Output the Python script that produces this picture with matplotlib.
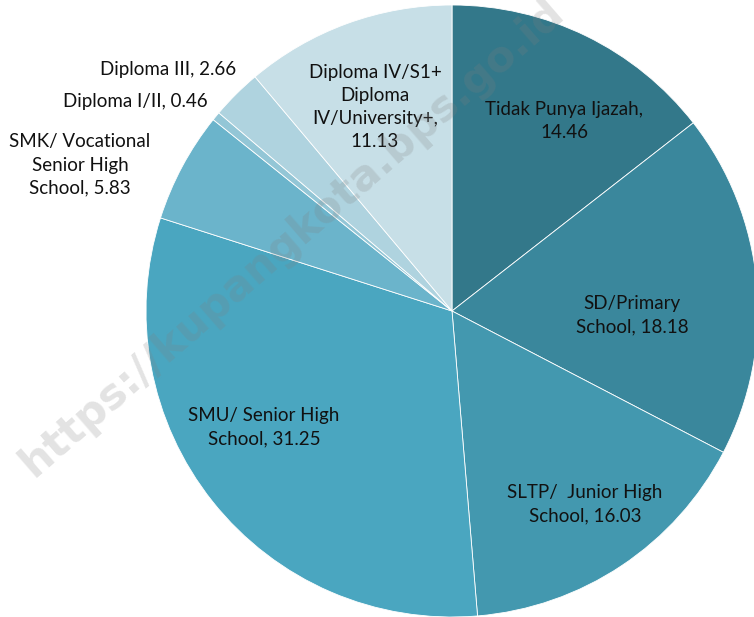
import matplotlib.pyplot as plt

plt.rcParams['font.family'] = ['Lato', 'DejaVu Sans']

# data, clockwise from 12 o'clock
categories = ["Tidak Punya Ijazah", "SD/Primary\nSchool", "SLTP/  Junior High\nSchool",
              "SMU/ Senior High\nSchool", "SMK/ Vocational\nSenior High\nSchool",
              "Diploma I/II", "Diploma III", "Diploma IV/S1+\nDiploma\nIV/University+"]
values = [14.46, 18.18, 16.03, 31.25, 5.83, 0.46, 2.66, 11.13]
colors = ["#33788A", "#3A879C", "#4398AF", "#4AA6C0", "#6BB4CB",
          "#93C6D6", "#AFD3DF", "#C7DFE7"]

# label centres in pixel coords (x, y from top)
label_pos = [(564, 121), (632, 315), (585, 504), (264, 427), (80, 165),
             (135, 102), (168, 70), (375, 107)]
label_text = ["Tidak Punya Ijazah,\n14.46", "SD/Primary\nSchool, 18.18",
              "SLTP/  Junior High\nSchool, 16.03", "SMU/ Senior High\nSchool, 31.25",
              "SMK/ Vocational\nSenior High\nSchool, 5.83", "Diploma I/II, 0.46",
              "Diploma III, 2.66", "Diploma IV/S1+\nDiploma\nIV/University+,\n11.13"]

W, H = 754, 617
fig = plt.figure(figsize=(W / 100, H / 100), dpi=100)
ax = fig.add_axes([0, 0, 1, 1])
ax.axis('off')

ax.pie(values, colors=colors, startangle=90, counterclock=False,
       center=(452, H - 311), radius=306,
       wedgeprops=dict(edgecolor='white', linewidth=0.6))
ax.set_xlim(0, W)
ax.set_ylim(0, H)
ax.set_aspect('auto')

for (x, y), t in zip(label_pos, label_text):
    ax.text(x, H - y, t, ha='center', va='center', fontsize=13.5,
            color='#111111', linespacing=1.45)

# watermark
ax.text(292, H - 238, "https://kupangkota.bps.go.id", rotation=41,
        ha='center', va='center', fontsize=31, fontweight='bold',
        color='#808080', alpha=0.22, family=['DejaVu Sans'])

fig.savefig("out.png", dpi=100)
